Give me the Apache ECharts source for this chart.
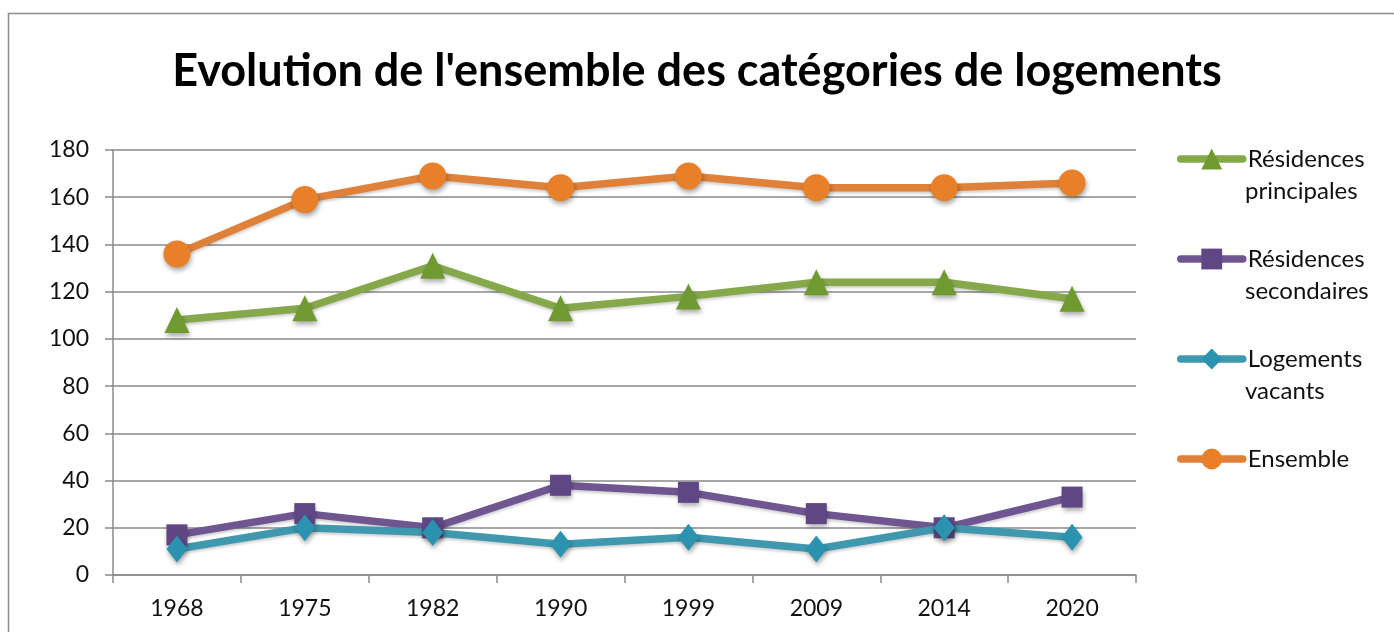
<!DOCTYPE html>
<html>
<head>
<meta charset="utf-8">
<script src="https://cdn.jsdelivr.net/npm/echarts@6/dist/echarts.min.js"></script>
<style>
html,body{margin:0;padding:0;background:#fff;}
#chart{width:1394px;height:632px;}
</style>
</head>
<body>
<div id="chart"></div>
<script>
const titleText = "Evolution de l'ensemble des catégories de logements";
const years = ['1968','1975','1982','1990','1999','2009','2014','2020'];
const yTicks = [0,20,40,60,80,100,120,140,160,180];
const seriesNames = ['Résidences principales','Résidences secondaires','Logements vacants','Ensemble'];
const legendFirst = ['Résidences','Résidences','Logements','Ensemble'];
const legendSecond = ['principales','secondaires','vacants',''];
const principales = [108,113,131,113,118,124,124,117];
const secondaires = [17,26,20,38,35,26,20,33];
const vacants = [11,20,18,13,16,11,20,16];
const ensemble = [136,159,169,164,169,164,164,166];

const FONT = 'Lato';
const lineColors = ['#84a84a','#6f5691','#3f98ae','#e0813a'];
const markColors = ['#6f9a2f','#5f4685','#2b93b0','#e8802a'];
const symbols = ['triangle','rect','diamond','circle'];
const symSizes = [[25,26],[21,21],[21,27],[27,27]];
const values = [principales, secondaires, vacants, ensemble];

const chart = echarts.init(document.getElementById('chart'));
const shadow = {shadowBlur:5, shadowColor:'rgba(0,0,0,0.35)', shadowOffsetX:1, shadowOffsetY:3};

const series = seriesNames.map((n,i)=>({
  name:n, type:'line', data:values[i],
  symbol:symbols[i], symbolSize:symSizes[i], showSymbol:true,
  lineStyle:{color:lineColors[i], width:7.5, cap:'round', join:'round', shadowBlur:3, shadowColor:'rgba(0,0,0,0.2)', shadowOffsetY:2},
  itemStyle:Object.assign({color:markColors[i], borderColor:markColors[i], borderWidth:0}, shadow),
  emphasis:{disabled:true},
  animation:false
}));

const legendTops = [159,259,359,459];
const LFS = 24;
const legends = seriesNames.map((n,i)=>({
  data:[n], left:1177, top:legendTops[i]-16, padding:0,
  orient:'vertical', itemWidth:62, itemHeight:26, itemGap:0,
  selectedMode:false,
  formatter:()=>legendFirst[i],
  lineStyle:{width:7.5, cap:'round', color:lineColors[i], shadowBlur:0},
  itemStyle:{color:markColors[i], shadowBlur:0},
  textStyle:{fontFamily:FONT, fontSize:LFS, color:'#111', lineHeight:32, padding:[0,0,0,0]}
}));

const graphics = [{type:'rect', shape:{x:8.5, y:13.5, width:1500, height:800},
    style:{fill:'none', stroke:'#8c8c8c', lineWidth:1.5}, silent:true, z:-1}];
legendSecond.forEach((t,i)=>{
  if(!t) return;
  graphics.push({type:'text', left:1245, top:legendTops[i]+32-16, silent:true,
    style:{text:t, fontFamily:FONT, fontSize:LFS, fill:'#111', lineHeight:32, verticalAlign:'top'}});
});

chart.setOption({
  backgroundColor:'#fff',
  animation:false,
  title:{text:titleText, left:'center', top:44,
    textStyle:{fontFamily:FONT, fontWeight:'bold', fontSize:45, color:'#000'}},
  legend:legends,
  grid:{left:113, right:258, top:150, bottom:57, containLabel:false},
  xAxis:{type:'category', data:years, boundaryGap:true,
    axisLine:{lineStyle:{color:'#8a8a8a', width:1.5}},
    axisTick:{show:true, length:8, lineStyle:{color:'#8a8a8a', width:1.5}},
    axisLabel:{fontFamily:FONT, fontSize:23, color:'#111', margin:22},
    splitLine:{show:false}},
  yAxis:{type:'value', min:0, max:180, interval:20,
    axisLine:{show:true, lineStyle:{color:'#8a8a8a', width:1.5}},
    axisTick:{show:true, length:8, lineStyle:{color:'#8a8a8a', width:1.5}},
    axisLabel:{fontFamily:FONT, fontSize:23, color:'#111', margin:24,
      formatter:(v)=> yTicks.indexOf(v)>=0 ? String(v) : ''},
    splitLine:{show:true, lineStyle:{color:'#8a8a8a', width:1.5}}},
  graphic:graphics,
  series:series
});
</script>
</body>
</html>
